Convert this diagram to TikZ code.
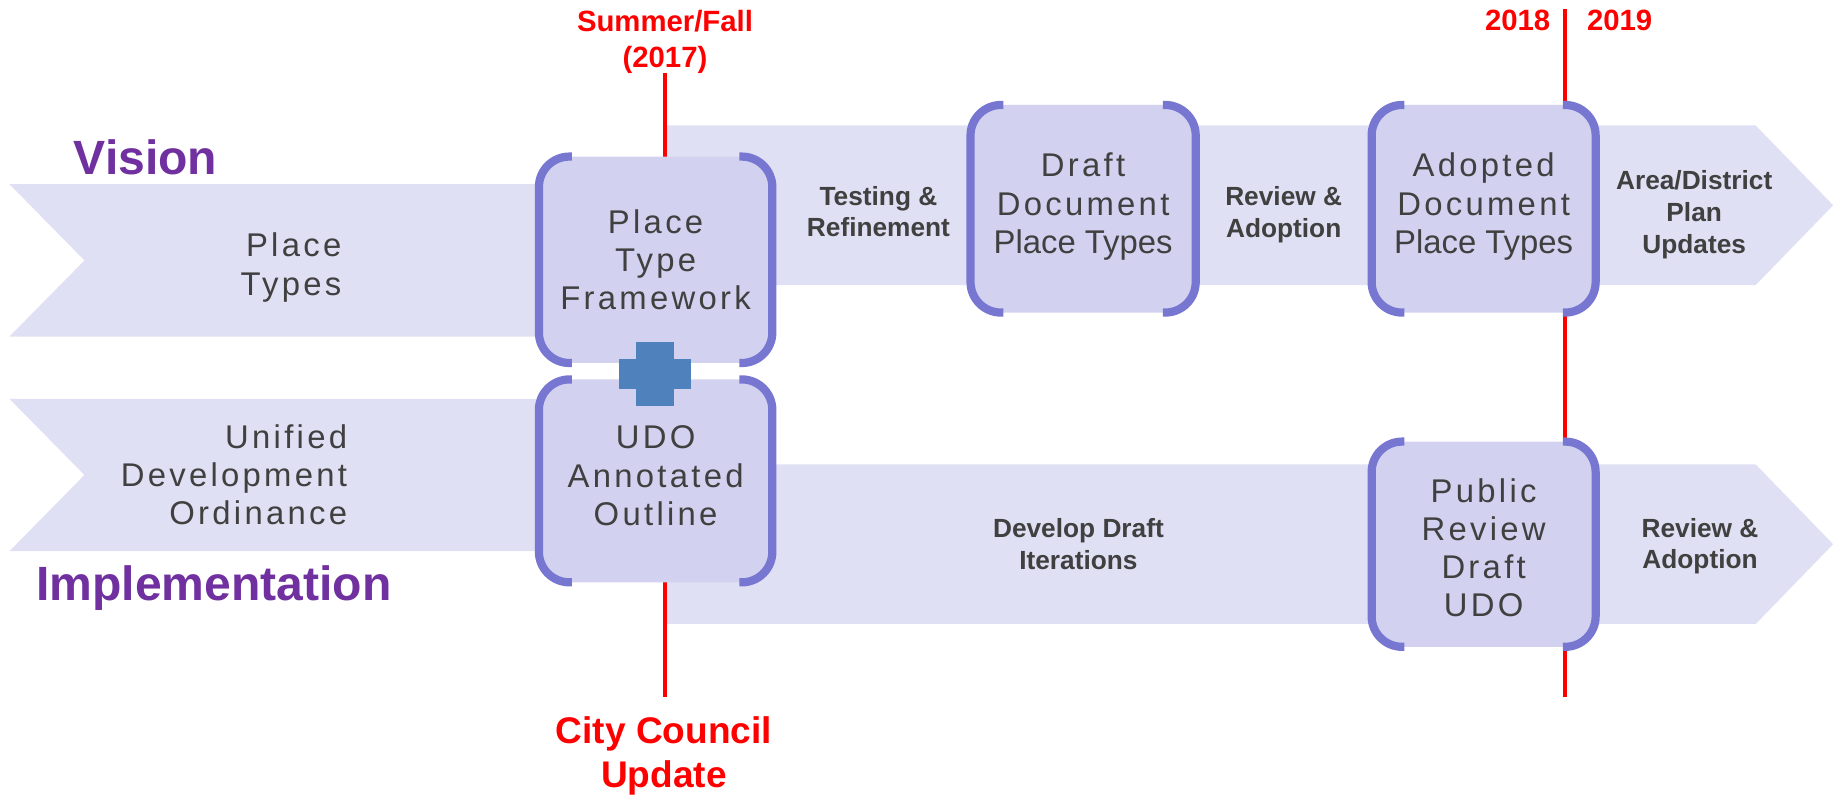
\documentclass[tikz,border=0pt]{standalone}
\usepackage{fontspec}
\setmainfont{Liberation Sans}
\newfontfamily\spacedfont[LetterSpace=10]{Liberation Sans}
\newfontfamily\plainfont{Liberation Sans}
\definecolor{bandc}{HTML}{E0E0F4}
\definecolor{boxc}{HTML}{D2D2F0}
\definecolor{brkc}{HTML}{7777D2}
\definecolor{txtc}{HTML}{404040}
\definecolor{redc}{HTML}{FF0000}
\definecolor{purc}{HTML}{7030A0}
\definecolor{plusc}{HTML}{4F81BD}
\tikzset{
  band/.style={fill=bandc, draw=none},
  boxn/.style={fill=boxc, draw=none, rounded corners=13pt, inner sep=0pt, outer sep=0pt},
  brk/.style={draw=brkc, line width=3.5pt, rounded corners=13pt},
  redline/.style={draw=redc, line width=1.5pt},
  txt/.style={inner sep=0pt, outer sep=0pt, align=center},
  boxt/.style={txt, text=txtc, font=\spacedfont\fontsize{14}{16.3}\selectfont},
  lbl/.style={txt, text=txtc, font=\bfseries\fontsize{11.2}{13.5}\selectfont},
  redsm/.style={txt, text=redc, font=\bfseries\fontsize{12.5}{15.5}\selectfont},
  redbig/.style={txt, text=redc, font=\bfseries\fontsize{15.8}{18.75}\selectfont},
  purp/.style={txt, text=purc, font=\bfseries\fontsize{20.5}{24}\selectfont},
}
\newcommand\boxbrackets[1]{%
  \draw[brk] ([xshift=14pt]#1.north west) -- (#1.north west) -- (#1.south west) -- ([xshift=14pt]#1.south west);
  \draw[brk] ([xshift=-14pt]#1.north east) -- (#1.north east) -- (#1.south east) -- ([xshift=-14pt]#1.south east);}
\begin{document}
\begin{tikzpicture}[x=0.5pt, y=-0.5pt]
\useasboundingbox (0,0) rectangle (1568,680);
% bands
\fill[band] (8,157) -- (565,157) -- (565,287) -- (8,287) -- (72,222) -- cycle;
\fill[band] (8,340) -- (565,340) -- (565,470) -- (8,470) -- (72,405) -- cycle;
\fill[band] (568,107) -- (1497,107) -- (1563,175) -- (1497,243) -- (568,243) -- cycle;
\fill[band] (568,396) -- (1497,396) -- (1563,464) -- (1497,532) -- (568,532) -- cycle;
% red timeline lines
\coordinate (l1t) at (567,62);
\coordinate (l1b) at (567,594);
\coordinate (l2t) at (1334.5,8);
\coordinate (l2b) at (1334.5,594);
\draw[redline] (l1t) -- (l1b);
\draw[redline] (l2t) -- (l2b);
% boxes
\node[boxn, minimum width=99.5pt, minimum height=88pt] (ptf) at (559,221.5) {};
\node[boxn, minimum width=99.5pt, minimum height=86.5pt] (udo) at (559,410) {};
\node[boxn, minimum width=96pt, minimum height=88.5pt] (draft) at (923.5,178) {};
\node[boxn, minimum width=95.5pt, minimum height=88.5pt] (adopt) at (1265,178) {};
\node[boxn, minimum width=95.5pt, minimum height=87.5pt] (pub) at (1265,464) {};
\boxbrackets{ptf}
\boxbrackets{udo}
\boxbrackets{draft}
\boxbrackets{adopt}
\boxbrackets{pub}
% plus
\fill[plusc] (542,292) rectangle (575,346);
\fill[plusc] (528,306) rectangle (589,332);
% box texts
\node[boxt] (ptf-t) at (559,221.5) {Place\\Type\\Framework};
\node[boxt] (udo-t) at (559,405.6) {UDO\\Annotated\\Outline};
\node[boxt] (draft-t) at (923.5,176.1) {Draft\\Document\\{\plainfont Place Types}};
\node[boxt] (adopt-t) at (1265,176.1) {Adopted\\Document\\{\plainfont Place Types}};
\node[boxt] (pub-t) at (1265,467) {Public\\Review\\Draft\\UDO};
\node[boxt, align=right, anchor=east] (pt-t) at (291,228) {Place\\Types};
\node[boxt, align=right, anchor=east] (ud-t) at (296,405) {Unified\\Development\\Ordinance};
% bold labels
\node[lbl] (test) at (749,180.5) {Testing \&\\Refinement};
\node[lbl] (rev1) at (1094.5,182.9) {Review \&\\Adoption};
\node[lbl] (area) at (1444.5,183.1) {Area/District\\Plan\\Updates};
\node[lbl] (dev) at (919.5,464) {Develop Draft\\Iterations};
\node[lbl] (rev2) at (1449.5,465.8) {Review \&\\Adoption};
% red labels
\node[redsm] (summer) at (567,36) {Summer/Fall\\(2017)};
\node[redsm] (y18) at (1294,17.8) {2018};
\node[redsm] (y19) at (1381,17.8) {2019};
\node[redbig] (council) at (566,644.6) {City Council\\Update};
% purple headings
\node[purp, anchor=base west] (vision) at (63,149) {Vision};
\node[purp, anchor=base west] (impl) at (31,512) {Implementation};
\end{tikzpicture}
\end{document}
